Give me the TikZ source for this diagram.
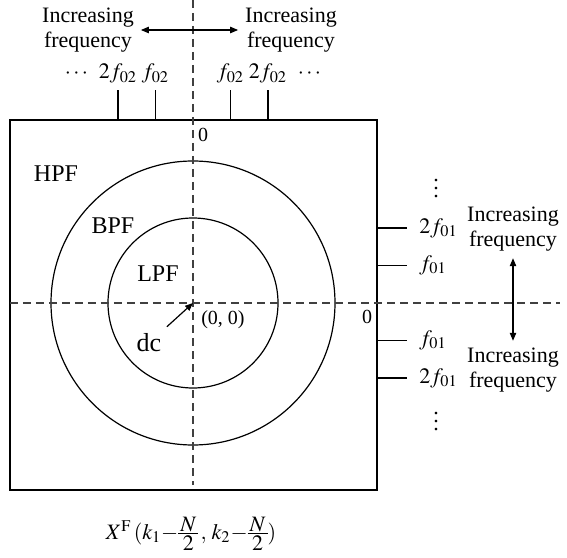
\documentclass[tikz,border=0pt]{standalone}
\usepackage{mathptmx}
\usepackage{fontspec}
\setmainfont{Liberation Serif}
\usetikzlibrary{positioning, arrows.meta}

\newcommand{\fracNtwo}{\vcenter{\offinterlineskip\halign{\hfil\kern1pt$##$\kern1pt\hfil\cr
  N\cr\noalign{\kern0.7pt\hrule height0.4pt\kern0.8pt}2\cr}}}

\tikzset{
  axis/.style={dash pattern=on 4pt off 2.5pt, line width=0.55pt, draw=black!75},
  tick/.style={line width=0.6pt},
  flab/.style={font=\fontsize{11}{13}\selectfont, inner sep=1pt},
  txt/.style={font=\fontsize{11}{12.5}\selectfont, align=center},
  band/.style={font=\fontsize{12}{14}\selectfont}
}

\begin{document}
\begin{tikzpicture}[x=0.5pt, y=0.5pt, >={Triangle[length=4pt, width=3.2pt]}]
    \useasboundingbox (-193, 303) rectangle (374, -254);

    % Spectrum plane and filter regions
    \draw[line width=0.7pt] (-183, 183) rectangle (184, -187);
    \draw[line width=0.6pt] (0, 0) circle (142);
    \draw[line width=0.6pt] (0, 0) circle (85);

    % Axes through dc
    \draw[axis] (0, 303) -- (0, -182);
    \draw[axis] (-183, 0) -- (367, 0);
    \coordinate (origin) at (0, 0);

    % Top axis ticks
    \foreach \x/\n in {-75/a, -37.5/b, 37.5/c, 75/d} {
      \coordinate (tb\n) at (\x, 183);
      \coordinate (tt\n) at (\x, 213);
      \draw[tick] (tb\n) -- (tt\n);
    }
    \node[flab, above=2pt of tta] (topA) {$2f_{02}$};
    \node[flab, above=2pt of ttb] (topB) {$f_{02}$};
    \node[flab, above=2pt of ttc] (topC) {$f_{02}$};
    \node[flab, above=2pt of ttd] (topD) {$2f_{02}$};
    \node[flab, left=3pt of topA] (topDotsL) {$\cdots$};
    \node[flab, right=3pt of topD] (topDotsR) {$\cdots$};

    \node[txt] (incTL) at (-105, 273) {Increasing\\frequency};
    \node[txt] (incTR) at (98, 273) {Increasing\\frequency};
    \draw[<->, line width=0.6pt] (incTL) -- (incTR);

    % Right axis ticks
    \foreach \y/\n in {75/a, 37.5/b, -37.5/c, -75/d} {
      \coordinate (rb\n) at (184, \y);
      \coordinate (rt\n) at (214, \y);
      \draw[tick] (rb\n) -- (rt\n);
    }
    \node[flab, right=5pt of rta] (rightA) {$2f_{01}$};
    \node[flab, right=5pt of rtb] (rightB) {$f_{01}$};
    \node[flab, right=5pt of rtc] (rightC) {$f_{01}$};
    \node[flab, right=5pt of rtd] (rightD) {$2f_{01}$};
    \node[flab, inner sep=0pt] (vdotsT) at (243, 120) {$\vdots$};
    \node[flab, inner sep=0pt] (vdotsB) at (243, -113) {$\vdots$};

    \node[txt] (incRU) at (320, 74) {Increasing\\frequency};
    \node[txt] (incRD) at (320, -67) {Increasing\\frequency};
    \draw[<->, line width=0.6pt] (incRU) -- (incRD);

    % Zero marks
    \node[font=\fontsize{10}{12}\selectfont] (zeroT) at (10, 168) {0};
    \node[font=\fontsize{10}{12}\selectfont] (zeroR) at (174, -14) {0};

    % Filter labels
    \node[band] (hpf) at (-137, 129) {HPF};
    \node[band] (bpf) at (-80, 77) {BPF};
    \node[band] (lpf) at (-35, 29) {LPF};

    \node[font=\fontsize{13}{15}\selectfont] (dc) at (-44, -40) {dc};
    \draw[->, line width=0.6pt] (dc) -- (origin);
    \node[font=\fontsize{10}{12}\selectfont] (zero) at (30, -17) {(0, 0)};

    % Spectrum index
    \node[font=\fontsize{11}{13}\selectfont] (spec) at (-2, -231)
      {$X^{\mathrm{F}}\,(k_1{-}\fracNtwo\,,\,k_2{-}\fracNtwo)$};
\end{tikzpicture}
\end{document}
